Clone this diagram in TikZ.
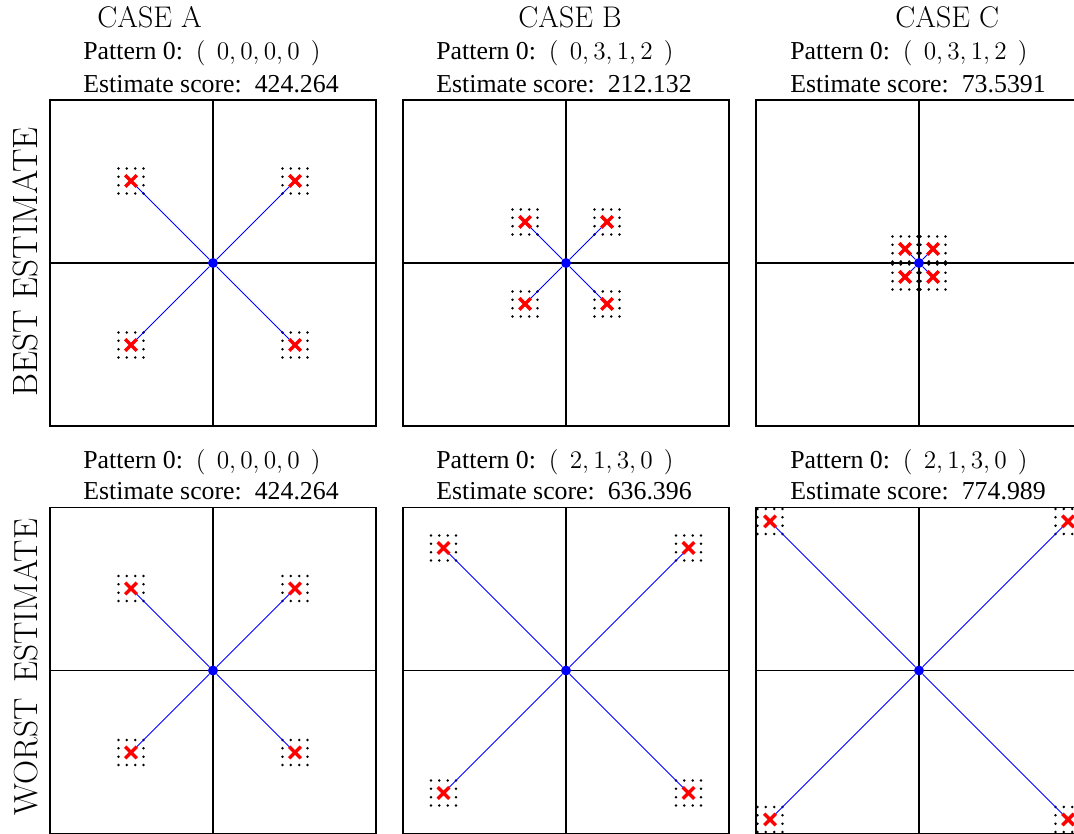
\documentclass[tikz,border=0pt]{standalone}
\usepackage{fontspec}
\newfontfamily\timesfont{Liberation Serif}
\usetikzlibrary{shapes.misc}
\tikzset{
  frame/.style={draw=black, line width=0.75pt},
  axis/.style={black, line width=0.75pt},
  link/.style={blue, line width=0.55pt},
  hub/.style={circle, fill=blue, inner sep=0pt, minimum size=0.2cm},
  hit/.style={cross out, draw=red, line width=2pt, inner sep=0pt, minimum size=0.16cm},
  info/.style={font=\timesfont\fontsize{14.7}{17}\selectfont, anchor=base west, inner sep=0pt},
  casename/.style={font=\fontsize{17}{20}\selectfont, anchor=base west, inner sep=0pt},
  rowname/.style={rotate=90, anchor=base, inner sep=0pt}
}
\begin{document}
\begin{tikzpicture}[x=0.02cm, y=0.02cm]
    \useasboundingbox (0,0) rectangle (1074,834);
    \clip (0,0) rectangle (1074,834);
    % panels: name / centre x / centre y / spread of the four points
    \foreach \nm/\cx/\cy/\d in {ta/213/571/82, tb/566/571/41, tc/919/571/14,
                               ba/213/163.5/82, bb/566/163.5/122.5, bc/919/163.5/149} {
        \draw[frame] ({\cx-163},{\cy-163}) rectangle ({\cx+163},{\cy+163});
        \draw[axis] ({\cx-163},\cy) -- ({\cx+163},\cy);
        \draw[axis] (\cx,{\cy-163}) -- (\cx,{\cy+163});
        \foreach \sx/\sy/\k in {-1/1/1, 1/1/2, -1/-1/3, 1/-1/4} {
            \coordinate (\nm-\k) at ({\sx*\d+\cx},{\sy*\d+\cy});
            \foreach \i in {-12.5,-4.17,4.17,12.5}
                \foreach \j in {-12.5,-4.17,4.17,12.5}
                    \fill[black] (\nm-\k) ++(\i,\j) circle (1.4);
        }
        \node[hub] (\nm-c) at (\cx,\cy) {};
        \foreach \k in {1,2,3,4} {
            \node[hit] (\nm-x\k) at (\nm-\k) {};
            \draw[link] (\nm-c) -- (\nm-x\k);
        }
    }
    % column and row titles
    \node[casename] (caseA) at (97,806) {CASE A};
    \node[casename] (caseB) at (518,806) {CASE B};
    \node[casename] (caseC) at (895,806) {CASE C};
    \node[rowname, font=\fontsize{20}{22}\selectfont] (best) at (37,572) {BEST ESTIMATE};
    \node[rowname, font=\fontsize{19}{22}\selectfont] (worst) at (37,167) {WORST\ \,ESTIMATE};
    % best estimate texts
    \node[info] (ta-pat) at (83,774) {Pattern 0:\ \ $(\;\,0,0,0,0\;\,)$};
    \node[info] (ta-sco) at (83,741) {Estimate score:\ \ 424.264};
    \node[info] (tb-pat) at (436,774) {Pattern 0:\ \ $(\;\,0,3,1,2\;\,)$};
    \node[info] (tb-sco) at (436,741) {Estimate score:\ \ 212.132};
    \node[info] (tc-pat) at (790,774) {Pattern 0:\ \ $(\;\,0,3,1,2\;\,)$};
    \node[info] (tc-sco) at (790,741) {Estimate score:\ \ 73.5391};
    % worst estimate texts
    \node[info] (ba-pat) at (83,365) {Pattern 0:\ \ $(\;\,0,0,0,0\;\,)$};
    \node[info] (ba-sco) at (83,334) {Estimate score:\ \ 424.264};
    \node[info] (bb-pat) at (436,365) {Pattern 0:\ \ $(\;\,2,1,3,0\;\,)$};
    \node[info] (bb-sco) at (436,334) {Estimate score:\ \ 636.396};
    \node[info] (bc-pat) at (790,365) {Pattern 0:\ \ $(\;\,2,1,3,0\;\,)$};
    \node[info] (bc-sco) at (790,334) {Estimate score:\ \ 774.989};
\end{tikzpicture}
\end{document}
